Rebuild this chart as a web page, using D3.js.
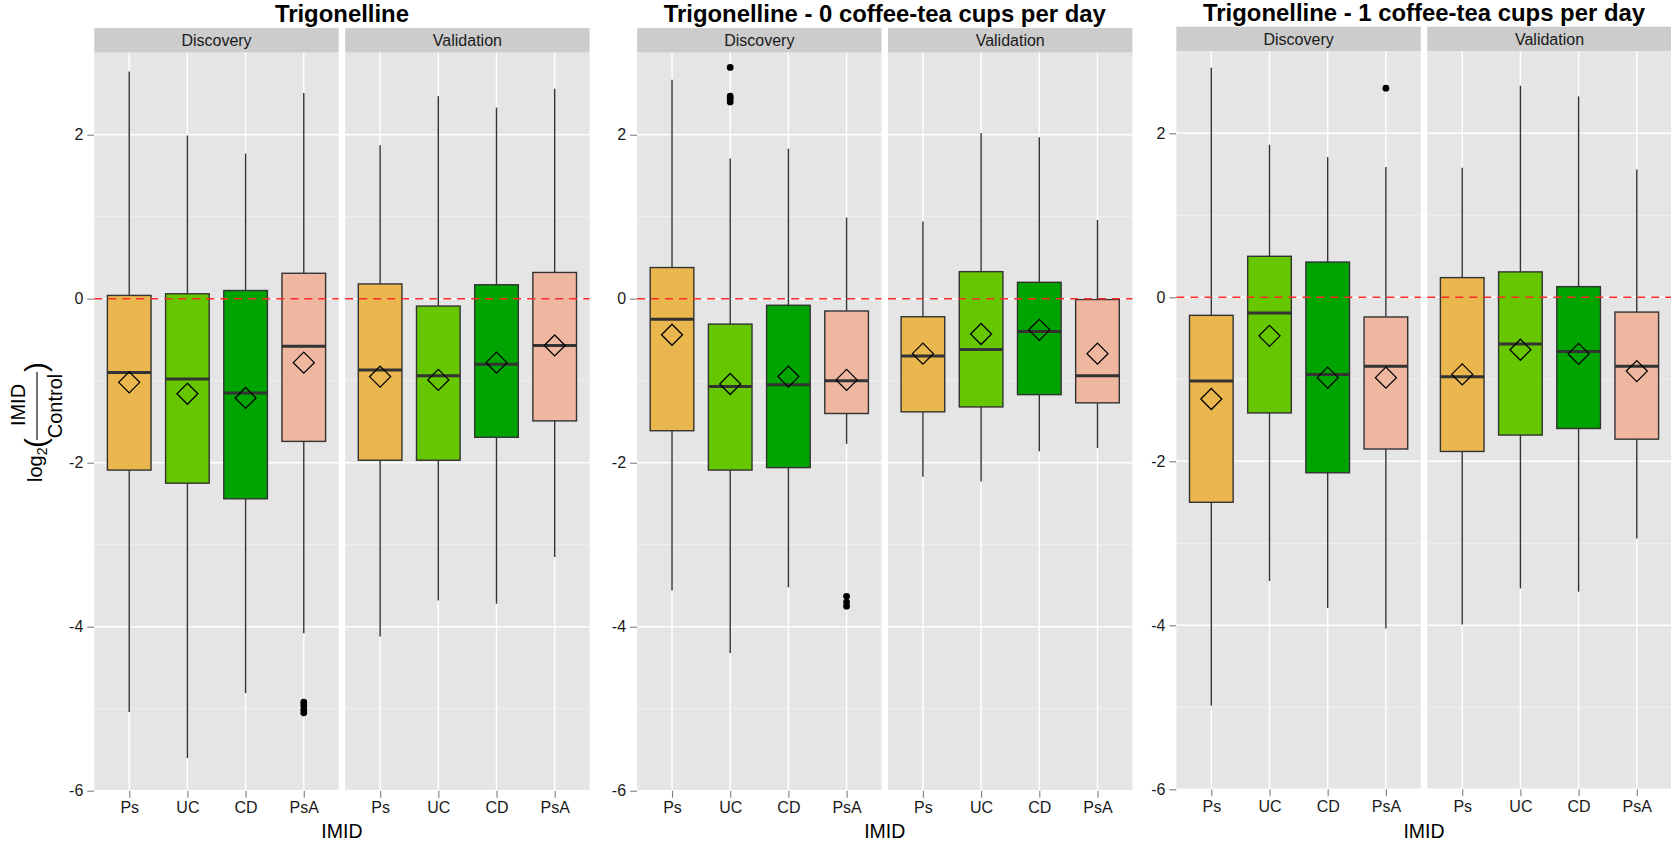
<!DOCTYPE html>
<html>
<head>
<meta charset="utf-8">
<script src="https://cdn.jsdelivr.net/npm/d3@7"></script>
<style>
  body { margin: 0; background: #ffffff; }
  svg { display: block; font-family: "Liberation Sans", Arial, Helvetica, sans-serif; }
</style>
</head>
<body>
<svg id="chart" width="1671" height="843"></svg>
<script>
// ---- data -------------------------------------------------------------
const categories = ["Ps", "UC", "CD", "PsA"];
const cohorts = ["Discovery", "Validation"];
const titles = [
  "Trigonelline",
  "Trigonelline - 0 coffee-tea cups per day",
  "Trigonelline - 1 coffee-tea cups per day"
];
const yTicks = [-6, -4, -2, 0, 2];
const yTickLabels = ["-6", "-4", "-2", "0", "2"];
const yMinorTicks = [-5, -3, -1, 1];
const fillColors = ["#E9B74D", "#66C600", "#00A400", "#EFB7A0"];

// box statistics, indexed [chart][cohort][category]
const whiskerLow = [
  [[-5.04, -5.60, -4.81, -4.08], [-4.12, -3.68, -3.72, -3.15]],
  [[-3.56, -4.32, -3.52, -1.77], [-2.17, -2.23, -1.86, -1.82]],
  [[-4.98, -3.46, -3.79, -4.04], [-3.99, -3.55, -3.59, -2.94]]
];
const quartile1 = [
  [[-2.09, -2.25, -2.44, -1.74], [-1.97, -1.97, -1.69, -1.49]],
  [[-1.61, -2.09, -2.06, -1.40], [-1.38, -1.32, -1.17, -1.27]],
  [[-2.50, -1.41, -2.14, -1.85], [-1.88, -1.68, -1.60, -1.73]]
];
const medians = [
  [[-0.90, -0.98, -1.15, -0.58], [-0.87, -0.94, -0.80, -0.57]],
  [[-0.25, -1.07, -1.05, -1.00], [-0.70, -0.62, -0.40, -0.94]],
  [[-1.02, -0.19, -0.94, -0.84], [-0.97, -0.57, -0.66, -0.84]]
];
const quartile3 = [
  [[0.04, 0.06, 0.10, 0.31], [0.18, -0.09, 0.17, 0.32]],
  [[0.38, -0.31, -0.08, -0.15], [-0.22, 0.33, 0.20, -0.01]],
  [[-0.22, 0.50, 0.43, -0.24], [0.24, 0.31, 0.13, -0.18]]
];
const whiskerHigh = [
  [[2.77, 1.99, 1.77, 2.51], [1.87, 2.47, 2.33, 2.56]],
  [[2.67, 1.71, 1.83, 0.99], [0.94, 2.02, 1.97, 0.96]],
  [[2.80, 1.86, 1.71, 1.59], [1.58, 2.58, 2.45, 1.56]]
];
const means = [
  [[-1.02, -1.16, -1.21, -0.78], [-0.95, -0.99, -0.78, -0.57]],
  [[-0.44, -1.04, -0.95, -0.99], [-0.67, -0.43, -0.38, -0.67]],
  [[-1.24, -0.47, -0.98, -0.98], [-0.94, -0.64, -0.69, -0.90]]
];
const outliers = [
  { chart: 0, cohort: 0, category: "PsA", values: [-4.92, -4.96, -5.01, -5.05] },
  { chart: 1, cohort: 0, category: "UC", values: [2.82, 2.47, 2.44, 2.40] },
  { chart: 1, cohort: 0, category: "PsA", values: [-3.63, -3.70, -3.75] },
  { chart: 2, cohort: 0, category: "PsA", values: [2.55] }
];
const referenceLine = 0;

// ---- layout -----------------------------------------------------------
const charts = [
  { left: 94.3, top: 52.7, bottom: 790.7, titleY: 21.7 },
  { left: 637.1, top: 52.7, bottom: 790.7, titleY: 21.7 },
  { left: 1176.4, top: 51.3, bottom: 789.3, titleY: 20.7 }
];
const facetWidth = 244.4;
const facetGap = 6.5;
const stripHeight = 24.6;
const yDomain = [-6, 3];
const textDark = "#1a1a1a";
const boxStroke = "#333333";

const svg = d3.select("#chart");

charts.forEach((c, ci) => {
  const g = svg.append("g");
  const y = d3.scaleLinear().domain(yDomain).range([c.bottom, c.top]);
  const fullRight = c.left + 2 * facetWidth + facetGap;

  // title
  g.append("text")
    .attr("x", (c.left + fullRight) / 2)
    .attr("y", c.titleY)
    .attr("text-anchor", "middle")
    .attr("font-size", 23.9)
    .attr("font-weight", "bold")
    .attr("fill", "#000")
    .text(titles[ci]);

  // y axis (ticks + labels)
  const yAxis = d3.axisLeft(y).tickValues(yTicks).tickSize(7).tickPadding(4)
    .tickFormat((d, i) => yTickLabels[i]);
  const ya = g.append("g").attr("transform", `translate(${c.left},0)`).call(yAxis);
  ya.select(".domain").remove();
  ya.selectAll(".tick line").attr("stroke", "#7f7f7f").attr("stroke-width", 1.1);
  ya.selectAll(".tick text").attr("font-size", 16).attr("fill", textDark)
    .attr("font-family", "Liberation Sans, Arial, sans-serif");

  cohorts.forEach((cohort, k) => {
    const fx0 = c.left + k * (facetWidth + facetGap);
    const x = d3.scalePoint().domain(categories).range([fx0, fx0 + facetWidth]).padding(0.6);
    const boxW = x.step() * 0.75;
    const f = g.append("g");

    // strip
    f.append("rect")
      .attr("x", fx0).attr("y", c.top - stripHeight)
      .attr("width", facetWidth).attr("height", stripHeight)
      .attr("fill", "#cccccc");
    f.append("text")
      .attr("x", fx0 + facetWidth / 2)
      .attr("y", c.top - stripHeight / 2 + 5.7)
      .attr("text-anchor", "middle")
      .attr("font-size", 16)
      .attr("fill", textDark)
      .text(cohort);

    // panel background and grid
    f.append("rect")
      .attr("x", fx0).attr("y", c.top)
      .attr("width", facetWidth).attr("height", c.bottom - c.top)
      .attr("fill", "#e5e5e5");
    f.selectAll(".minor").data(yMinorTicks).join("line")
      .attr("x1", fx0).attr("x2", fx0 + facetWidth)
      .attr("y1", d => y(d)).attr("y2", d => y(d))
      .attr("stroke", "#f2f2f2").attr("stroke-width", 0.8);
    f.selectAll(".majorY").data(yTicks).join("line")
      .attr("x1", fx0).attr("x2", fx0 + facetWidth)
      .attr("y1", d => y(d)).attr("y2", d => y(d))
      .attr("stroke", "#ffffff").attr("stroke-width", 1.4);
    f.selectAll(".majorX").data(categories).join("line")
      .attr("x1", d => x(d)).attr("x2", d => x(d))
      .attr("y1", c.top).attr("y2", c.bottom)
      .attr("stroke", "#ffffff").attr("stroke-width", 1.4);

    // x axis
    const xAxis = d3.axisBottom(x).tickSize(7).tickPadding(4);
    const xa = f.append("g").attr("transform", `translate(0,${c.bottom})`).call(xAxis);
    xa.select(".domain").remove();
    xa.selectAll(".tick line").attr("stroke", "#7f7f7f").attr("stroke-width", 1.1);
    xa.selectAll(".tick text").attr("font-size", 16).attr("fill", textDark)
      .attr("font-family", "Liberation Sans, Arial, sans-serif");

    // boxes
    categories.forEach((cat, j) => {
      const cx = x(cat);
      const lo = whiskerLow[ci][k][j], q1 = quartile1[ci][k][j], md = medians[ci][k][j];
      const q3 = quartile3[ci][k][j], hi = whiskerHigh[ci][k][j], mn = means[ci][k][j];
      const b = f.append("g");
      b.append("line").attr("x1", cx).attr("x2", cx).attr("y1", y(q3)).attr("y2", y(hi))
        .attr("stroke", boxStroke).attr("stroke-width", 1.4);
      b.append("line").attr("x1", cx).attr("x2", cx).attr("y1", y(q1)).attr("y2", y(lo))
        .attr("stroke", boxStroke).attr("stroke-width", 1.4);
      b.append("rect")
        .attr("x", cx - boxW / 2).attr("y", y(q3))
        .attr("width", boxW).attr("height", y(q1) - y(q3))
        .attr("fill", fillColors[j]).attr("stroke", boxStroke).attr("stroke-width", 1.4);
      b.append("line").attr("x1", cx - boxW / 2).attr("x2", cx + boxW / 2)
        .attr("y1", y(md)).attr("y2", y(md))
        .attr("stroke", boxStroke).attr("stroke-width", 3);
      // mean as open diamond
      const my = y(mn), r = 10.5;
      b.append("path")
        .attr("d", `M${cx},${my - r}L${cx + r},${my}L${cx},${my + r}L${cx - r},${my}Z`)
        .attr("fill", "none").attr("stroke", "#000").attr("stroke-width", 1.3);
    });

    // outliers
    outliers.filter(o => o.chart === ci && o.cohort === k).forEach(o => {
      f.selectAll(null).data(o.values).join("circle")
        .attr("cx", x(o.category)).attr("cy", d => y(d)).attr("r", 3.4)
        .attr("fill", "#000");
    });

    // reference line at zero
    f.append("line")
      .attr("x1", fx0).attr("x2", fx0 + facetWidth)
      .attr("y1", y(referenceLine)).attr("y2", y(referenceLine))
      .attr("stroke", "#ff2a2a").attr("stroke-width", 1.6)
      .attr("stroke-dasharray", "8,6");
  });

  // x axis title
  g.append("text")
    .attr("x", (c.left + fullRight) / 2)
    .attr("y", 838)
    .attr("text-anchor", "middle")
    .attr("font-size", 19.5)
    .attr("fill", "#000")
    .text("IMID");
});

// y axis title: log2(IMID / Control), rotated
const yt = svg.append("g").attr("transform", "rotate(-90)");
const yTitleFont = 20;
yt.append("text").attr("x", -482).attr("y", 42).attr("font-size", yTitleFont).attr("fill", "#000")
  .text("log")
  .append("tspan").attr("dy", 5).attr("font-size", 14).text("2");
yt.append("text").attr("x", -448).attr("y", 46).attr("font-size", 30).attr("fill", "#000")
  .text("(");
yt.append("line").attr("x1", -440).attr("x2", -372).attr("y1", 37).attr("y2", 37)
  .attr("stroke", "#000").attr("stroke-width", 1.1);
yt.append("text").attr("x", -405).attr("y", 25).attr("text-anchor", "middle")
  .attr("font-size", yTitleFont).attr("fill", "#000").text("IMID");
yt.append("text").attr("x", -406).attr("y", 62).attr("text-anchor", "middle")
  .attr("font-size", yTitleFont).attr("fill", "#000").text("Control");
yt.append("text").attr("x", -372).attr("y", 46).attr("font-size", 30).attr("fill", "#000")
  .text(")");
</script>
</body>
</html>
